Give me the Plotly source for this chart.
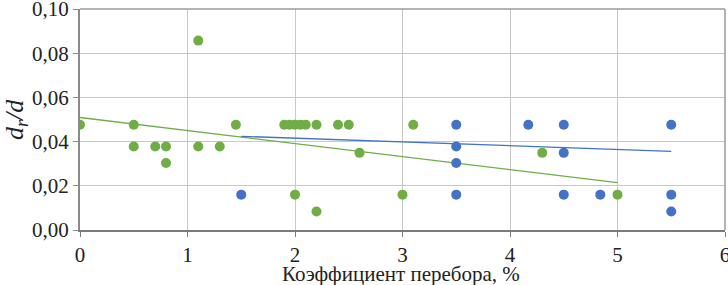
import plotly.graph_objects as go

# Green series (scatter points)
green_x = [0, 0.5, 0.5, 0.7, 0.8, 0.8, 1.1, 1.1, 1.3, 1.45, 1.9, 1.95, 2.0, 2.05, 2.1,
           2.2, 2.2, 2.4, 2.5, 2.6, 2.0, 3.0, 3.1, 4.3, 5.0]
green_y = [0.0476, 0.0476, 0.0378, 0.0378, 0.0378, 0.0303, 0.0857, 0.0378, 0.0378, 0.0476,
           0.0476, 0.0476, 0.0476, 0.0476, 0.0476, 0.0476, 0.0084, 0.0476, 0.0476, 0.0349,
           0.016, 0.016, 0.0476, 0.0349, 0.016]

# Blue series (scatter points)
blue_x = [1.5, 3.5, 3.5, 3.5, 3.5, 4.17, 4.5, 4.5, 4.5, 4.84, 5.5, 5.5, 5.5]
blue_y = [0.016, 0.0476, 0.0378, 0.0303, 0.016, 0.0476, 0.0476, 0.0349, 0.016, 0.016,
          0.0476, 0.016, 0.0084]

# Trend lines (endpoints)
green_trend_x = [0, 5]
green_trend_y = [0.0509, 0.0214]
blue_trend_x = [1.5, 5.5]
blue_trend_y = [0.0424, 0.0356]

x_ticks = [0, 1, 2, 3, 4, 5, 6]
y_ticks = [0.0, 0.02, 0.04, 0.06, 0.08, 0.10]
y_tick_labels = ["0,00", "0,02", "0,04", "0,06", "0,08", "0,10"]

x_title = "Коэффициент перебора, %"
y_title = "<i>d<sub>r</sub>/d</i>"

GREEN = "#70AD47"
BLUE = "#4472C4"
FONT = "Liberation Serif"

fig = go.Figure()
fig.add_trace(go.Scatter(x=green_trend_x, y=green_trend_y, mode="lines",
                         line=dict(color=GREEN, width=1.3), showlegend=False))
fig.add_trace(go.Scatter(x=blue_trend_x, y=blue_trend_y, mode="lines",
                         line=dict(color=BLUE, width=1.3), showlegend=False))
fig.add_trace(go.Scatter(x=green_x, y=green_y, mode="markers",
                         marker=dict(color=GREEN, size=10, line=dict(width=0)), showlegend=False))
fig.add_trace(go.Scatter(x=blue_x, y=blue_y, mode="markers",
                         marker=dict(color=BLUE, size=10, line=dict(width=0)), showlegend=False))

fig.update_layout(
    width=728, height=285,
    margin=dict(l=80, r=3, t=9, b=55, autoexpand=False),
    plot_bgcolor="white", paper_bgcolor="white",
    font=dict(family=FONT, size=21, color="#222"),
    separators=", ",
    xaxis=dict(range=[0, 6], tickvals=x_ticks, showgrid=True, gridcolor="#c8c8c8", gridwidth=1,
               showline=True, linecolor="#7a7a7a", linewidth=2,
               ticks="outside", ticklen=5, tickcolor="#7a7a7a", tickwidth=1,
               zeroline=False, automargin=False, ticklabeloverflow="allow",
               tickfont=dict(family=FONT, size=21)),
    yaxis=dict(range=[0, 0.1], tickvals=y_ticks, ticktext=y_tick_labels,
               showgrid=True, gridcolor="#c8c8c8", gridwidth=1,
               showline=True, linecolor="#8a8a8a", linewidth=2,
               ticks="outside", ticklen=5, tickcolor="#8a8a8a", tickwidth=1,
               zeroline=False, automargin=False, ticklabeloverflow="allow",
               tickfont=dict(family=FONT, size=21)),
    annotations=[
        dict(text=x_title, xref="paper", yref="paper", x=0.497, y=-0.198,
             xanchor="center", yanchor="middle", showarrow=False,
             font=dict(family=FONT, size=21, color="#222")),
        dict(text=y_title, xref="paper", yref="paper", x=-0.10, y=0.5,
             xanchor="center", yanchor="middle", showarrow=False, textangle=-90,
             font=dict(family=FONT, size=26, color="#222")),
    ],
)
fig.add_shape(type="line", xref="paper", yref="paper", x0=1, x1=1, y0=0, y1=1,
              line=dict(color="#9a9a9a", width=1.5))
fig.add_shape(type="line", xref="paper", yref="paper", x0=0, x1=1, y0=1, y1=1,
              line=dict(color="#9a9a9a", width=1.5))

fig.write_html("out.html", config={"displayModeBar": False},
               post_script="document.body.style.margin='0';")
